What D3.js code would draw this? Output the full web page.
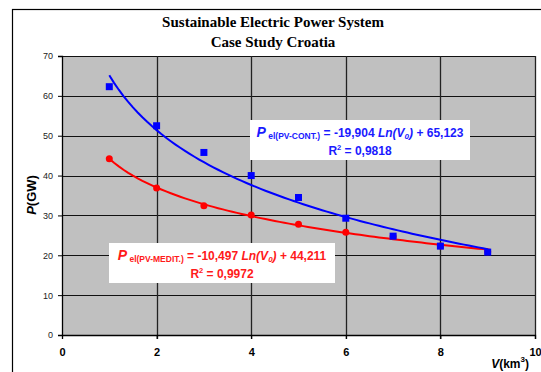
<!DOCTYPE html>
<html>
<head>
<meta charset="utf-8">
<script src="https://cdn.jsdelivr.net/npm/d3@7"></script>
<style>
body { margin: 0; background: #fff; }
svg text { font-family: Arial, "Liberation Sans", sans-serif; }
</style>
</head>
<body>
<script>
// données
const volumes = [1, 2, 3, 4, 5, 6, 7, 8, 9];
const pCont = [62.3, 52.5, 45.8, 40.0, 34.5, 29.3, 24.8, 22.3, 20.8];
const pMedit = [44.2, 36.9, 32.4, 30.1, 27.8, 25.8, 24.7, 22.3, 20.9];
const xTicks = [0, 2, 4, 6, 8, 10];
const yTicks = [0, 10, 20, 30, 40, 50, 60, 70];
const titleLines = ["Sustainable Electric Power System", "Case Study Croatia"];

const W = 541, H = 372;
const svg = d3.select("body").append("svg").attr("width", W).attr("height", H);

// cadre du graphique
svg.append("rect").attr("x", 12.5).attr("y", 9.5).attr("width", 540).attr("height", 380)
  .attr("fill", "#fff").attr("stroke", "#000").attr("stroke-width", 1.2);

const x = d3.scaleLinear().domain([0, 10]).range([62, 535]);
const y = d3.scaleLinear().domain([0, 70]).range([335, 56]);

// fond gris
svg.append("rect").attr("x", x(0)).attr("y", y(70)).attr("width", x(10) - x(0)).attr("height", y(0) - y(70))
  .attr("fill", "#c0c0c0");

// grille
svg.selectAll(".hg").data(yTicks.filter(d => d > 0)).enter().append("line")
  .attr("x1", x(0)).attr("x2", x(10)).attr("y1", d => Math.round(y(d)) + 0.5).attr("y2", d => Math.round(y(d)) + 0.5)
  .attr("stroke", "#111").attr("stroke-width", 1);
svg.selectAll(".vg").data(xTicks.filter(d => d > 0)).enter().append("line")
  .attr("y1", y(70)).attr("y2", y(0) + 4).attr("x1", d => Math.round(x(d)) + 0.5).attr("x2", d => Math.round(x(d)) + 0.5)
  .attr("stroke", "#222").attr("stroke-width", 1.3);

// axes
const gy = svg.append("g").attr("transform", `translate(${x(0)},0)`)
  .call(d3.axisLeft(y).tickValues(yTicks).tickSize(4).tickPadding(5));
gy.selectAll("text").attr("font-size", 9).attr("fill", "#222");
gy.select(".domain").attr("stroke", "#000").attr("stroke-width", 1.3);

const gx = svg.append("g").attr("transform", `translate(0,${y(0)})`)
  .call(d3.axisBottom(x).tickValues(xTicks).tickSize(4).tickPadding(9));
gx.selectAll("text").attr("font-size", 11).attr("font-weight", "bold").attr("fill", "#000");
gx.select(".domain").attr("stroke", "#000").attr("stroke-width", 1.3);

// titre
svg.selectAll(".title").data(titleLines).enter().append("text")
  .attr("x", 273).attr("y", (d, i) => 27 + i * 20)
  .attr("text-anchor", "middle").attr("font-weight", "bold").attr("font-size", 15)
  .style("font-family", "'Liberation Serif', 'Times New Roman', serif")
  .text(d => d);

// titres des axes
const yl = svg.append("text").attr("transform", "translate(36,195) rotate(-90)")
  .attr("text-anchor", "middle").attr("font-weight", "bold").attr("font-size", 13);
yl.append("tspan").attr("font-style", "italic").text("P");
yl.append("tspan").text("(GW)");

const xl = svg.append("text").attr("x", 529).attr("y", 368)
  .attr("text-anchor", "end").attr("font-weight", "bold").attr("font-size", 12);
xl.append("tspan").attr("font-style", "italic").text("V");
xl.append("tspan").text("(km");
xl.append("tspan").attr("font-size", 8).attr("dy", -6).text("3");
xl.append("tspan").attr("dy", 6).text(")");

// régression logarithmique y = a ln(x) + b
function logFit(xs, ys) {
  const lx = xs.map(Math.log);
  const mx = d3.mean(lx), my = d3.mean(ys);
  const a = d3.sum(lx, (v, i) => (v - mx) * (ys[i] - my)) / d3.sum(lx, v => (v - mx) ** 2);
  const b = my - a * mx;
  return v => a * Math.log(v) + b;
}

const curveX = d3.range(1, 9.001, 0.1);
const line = d3.line().x(d => x(d[0])).y(d => y(d[1]));

const fitMedit = logFit(volumes, pMedit);
const fitCont = logFit(volumes, pCont);

// série rouge
svg.append("path").datum(curveX.map(v => [v, fitMedit(v)]))
  .attr("d", line).attr("fill", "none").attr("stroke", "#ff0000").attr("stroke-width", 2);
svg.selectAll(".rc").data(volumes).enter().append("circle")
  .attr("cx", d => x(d)).attr("cy", (d, i) => y(pMedit[i])).attr("r", 3.5).attr("fill", "#ff0000");

// série bleue
svg.append("path").datum(curveX.map(v => [v, fitCont(v)]))
  .attr("d", line).attr("fill", "none").attr("stroke", "#0000ff").attr("stroke-width", 2);
svg.selectAll(".bs").data(volumes).enter().append("rect")
  .attr("x", d => x(d) - 3.5).attr("y", (d, i) => y(pCont[i]) - 3.5)
  .attr("width", 7).attr("height", 7).attr("fill", "#0000ff");

// étiquettes des équations
function equation(cx, top, w, color, sub, eq, r2) {
  svg.append("rect").attr("x", cx - w / 2).attr("y", top).attr("width", w).attr("height", 40).attr("fill", "#fff");
  const t = svg.append("text").attr("x", cx).attr("y", top + 17).attr("text-anchor", "middle")
    .attr("font-weight", "bold").attr("fill", color).attr("font-size", 12);
  t.append("tspan").attr("font-style", "italic").attr("font-size", 14).text("P");
  t.append("tspan").attr("font-size", 8.5).attr("dy", 2).text(" " + sub);
  t.append("tspan").attr("dy", -2).text(" = " + eq[0] + " ");
  t.append("tspan").attr("font-style", "italic").text("Ln(V");
  t.append("tspan").attr("font-style", "italic").attr("font-size", 8).attr("dy", 2).text("0");
  t.append("tspan").attr("font-style", "italic").attr("dy", -2).text(")");
  t.append("tspan").text(" + " + eq[1]);
  const t2 = svg.append("text").attr("x", cx).attr("y", top + 35).attr("text-anchor", "middle")
    .attr("font-weight", "bold").attr("fill", color).attr("font-size", 12);
  t2.append("tspan").text("R");
  t2.append("tspan").attr("font-size", 7.5).attr("dy", -5).text("2");
  t2.append("tspan").attr("dy", 5).text(" = " + r2);
}

equation(360, 120, 220, "#1a1aff", "el(PV-CONT.)", ["-19,904", "65,123"], "0,9818");
equation(222, 243, 226, "#ff1a1a", "el(PV-MEDIT.)", ["-10,497", "44,211"], "0,9972");
</script>
</body>
</html>
